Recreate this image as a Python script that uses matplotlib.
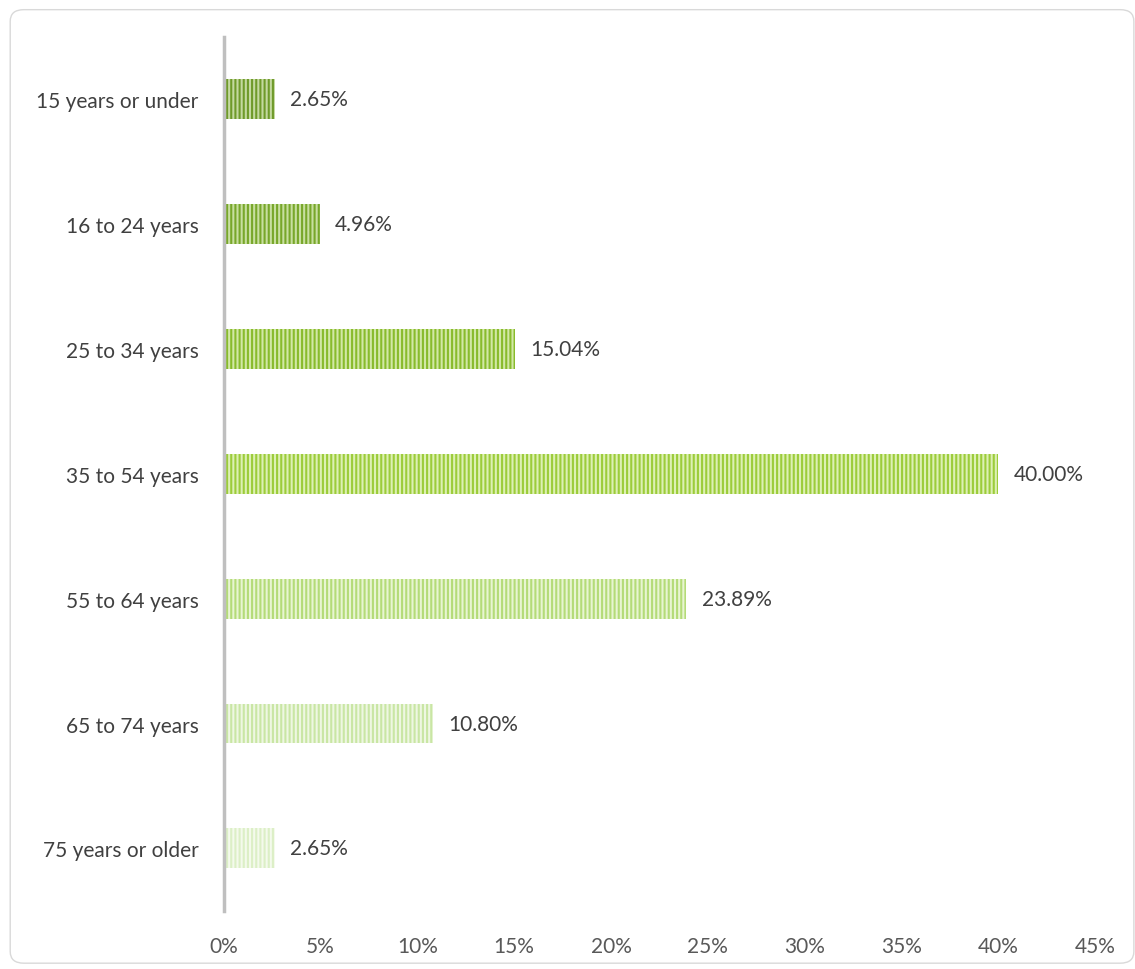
import matplotlib.pyplot as plt
from matplotlib.patches import FancyBboxPatch

categories = ['15 years or under', '16 to 24 years', '25 to 34 years', '35 to 54 years',
              '55 to 64 years', '65 to 74 years', '75 years or older']
values = [2.65, 4.96, 15.04, 40.00, 23.89, 10.80, 2.65]
stripe_colours = ['#6f9a2a', '#78a72a', '#88bb2c', '#9ccc3a', '#b4db78', '#c9e6a4', '#dcefc6']
gap_colours = ['#c4d9a0', '#c8dfa0', '#d2e8a6', '#ddf0b4', '#e8f5d2', '#eef7e2', '#f4faec']

plt.rcParams['font.family'] = ['Lato', 'DejaVu Sans']
plt.rcParams['hatch.linewidth'] = 1.5

fig = plt.figure(figsize=(11.35, 9.7), dpi=100)
fig.patches.append(FancyBboxPatch((0.009, 0.006), 0.99, 0.983, boxstyle='round,pad=0,rounding_size=0.012',
                                  transform=fig.transFigure, facecolor='none', edgecolor='#d9d9d9', lw=1,
                                  zorder=-1))
ax = fig.add_axes([0.197, 0.06, 0.768, 0.901])
ax.set_facecolor('none')

y = list(range(len(categories)))
for i in y:
    ax.barh(i, values[i], height=0.32, color=gap_colours[i], edgecolor=stripe_colours[i],
            hatch='||||', linewidth=0)
    ax.text(values[i] + 0.8, i, f'{values[i]:.2f}%', va='center', ha='left', fontsize=15, color='#404040')

ax.set_xlim(0, 45)
ax.set_ylim(len(categories) - 0.5, -0.5)
ax.set_yticks(y)
ax.set_yticklabels(categories, fontsize=15, color='#404040')
ax.set_xticks(range(0, 46, 5))
ax.set_xticklabels([f'{t}%' for t in range(0, 46, 5)], fontsize=15, color='#595959')
ax.tick_params(length=0)
ax.tick_params(axis='y', pad=18)
ax.tick_params(axis='x', pad=18)
for s in ['top', 'right', 'bottom']:
    ax.spines[s].set_visible(False)
ax.spines['left'].set_color('#bfbfbf')
ax.spines['left'].set_linewidth(2.5)

fig.savefig('out.png', dpi=100)
